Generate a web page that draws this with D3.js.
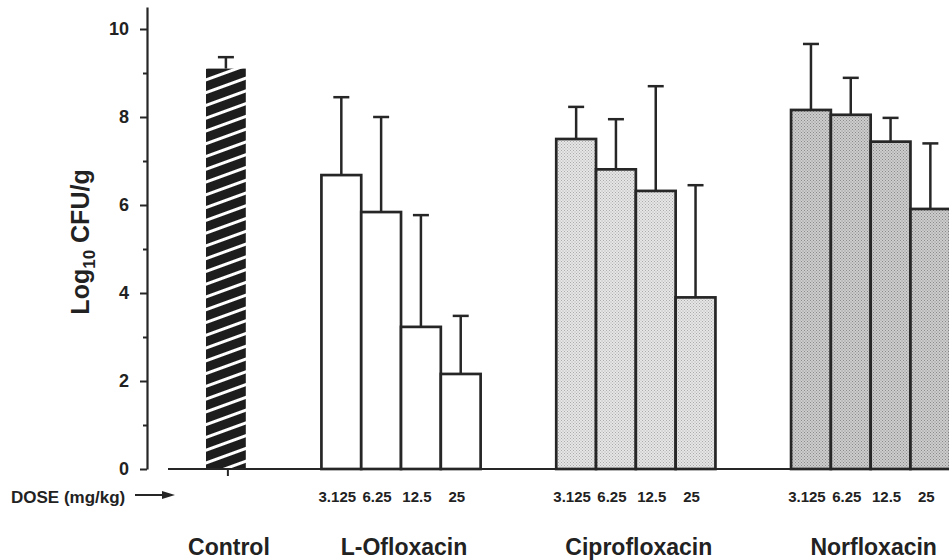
<!DOCTYPE html>
<html>
<head>
<meta charset="utf-8">
<script src="https://cdn.jsdelivr.net/npm/d3@7"></script>
<style>
  body { margin: 0; background: #fff; }
  svg { display: block; font-family: "Liberation Sans", Arial, Helvetica, sans-serif; font-weight: bold; }
</style>
</head>
<body>
<svg id="chart" width="949" height="560"></svg>
<script>
// group names and doses
const groups = ['Control', 'L-Ofloxacin', 'Ciprofloxacin', 'Norfloxacin'];
const doses = ['3.125', '6.25', '12.5', '25'];

// mean log10 CFU/g and upper error (SD)
const controlMean = [9.10];
const controlSd = [0.26];
const lofloxMean = [6.68, 5.84, 3.23, 2.16];
const lofloxSd = [1.77, 2.16, 2.54, 1.32];
const ciproMean = [7.50, 6.81, 6.32, 3.90];
const ciproSd = [0.73, 1.14, 2.38, 2.55];
const norfloxMean = [8.16, 8.05, 7.44, 5.91];
const norfloxSd = [1.50, 0.84, 0.54, 1.49];

const yTicks = [0, 2, 4, 6, 8, 10];

const svg = d3.select('#chart');
const ink = '#262626';

// bar slots: each bar is one unit, groups separated by a gap
const gap = 1.9;
const groupBars = [
  {name: groups[0], mean: controlMean, sd: controlSd, fill: 'url(#hatch)', doses: []},
  {name: groups[1], mean: lofloxMean, sd: lofloxSd, fill: '#fff', doses: doses},
  {name: groups[2], mean: ciproMean, sd: ciproSd, fill: 'url(#dotLight)', doses: doses},
  {name: groups[3], mean: norfloxMean, sd: norfloxSd, fill: 'url(#dotDark)', doses: doses}
];
let pos = 0;
const bars = [];
groupBars.forEach(g => {
  g.start = pos;
  g.mean.forEach((m, i) => {
    bars.push({group: g.name, x0: pos, mean: m, sd: g.sd[i], fill: g.fill, dose: g.doses[i]});
    pos += 1;
  });
  g.end = pos;
  pos += gap;
});

const x = d3.scaleLinear().domain([0, 1]).range([206, 245.8]);
const y = d3.scaleLinear().domain([0, 10.5]).range([469, 7]);

// patterns
const defs = svg.append('defs');
const hatch = defs.append('pattern')
  .attr('id', 'hatch')
  .attr('patternUnits', 'userSpaceOnUse')
  .attr('width', 12).attr('height', 12)
  .attr('patternTransform', 'rotate(-20)');
hatch.append('rect').attr('width', 12).attr('height', 12).attr('fill', '#1d1d1d');
hatch.append('rect').attr('y', 0).attr('width', 12).attr('height', 3).attr('fill', '#fff');

function dots(id, base, dot) {
  const p = defs.append('pattern')
    .attr('id', id)
    .attr('patternUnits', 'userSpaceOnUse')
    .attr('width', 3).attr('height', 3);
  p.append('rect').attr('width', 3).attr('height', 3).attr('fill', base);
  p.append('rect').attr('width', 1).attr('height', 1).attr('fill', dot);
  p.append('rect').attr('x', 1.5).attr('y', 1.5).attr('width', 1).attr('height', 1).attr('fill', dot);
}
dots('dotLight', '#e6e6e6', '#ababab');
dots('dotDark', '#cdcdcd', '#8a8a8a');

// y axis
const yAxis = d3.axisLeft(y)
  .tickValues(d3.range(0, 11))
  .tickSize(6)
  .tickSizeOuter(0)
  .tickPadding(12)
  .tickFormat(d => yTicks.includes(d) ? d : '');
const gy = svg.append('g')
  .attr('transform', 'translate(147,0)')
  .call(yAxis);
gy.select('.domain').attr('stroke', ink).attr('stroke-width', 2.2);
gy.selectAll('.tick line')
  .attr('stroke', ink).attr('stroke-width', 2)
  .attr('x2', d => yTicks.includes(d) ? -7 : -4);
gy.selectAll('.tick text')
  .attr('fill', '#222')
  .style('font-size', '18px')
  .style('font-weight', 'bold');

svg.append('text')
  .attr('transform', 'translate(89,' + 242 + ') rotate(-90)')
  .attr('text-anchor', 'middle')
  .style('font-size', '25px')
  .attr('fill', '#222')
  .call(t => {
    t.append('tspan').text('Log');
    t.append('tspan').attr('dy', 6).style('font-size', '17px').text('10');
    t.append('tspan').attr('dy', -6).text(' CFU/g');
  });

// bars
svg.append('g')
  .selectAll('rect')
  .data(bars)
  .join('rect')
  .attr('x', d => x(d.x0))
  .attr('y', d => y(d.mean))
  .attr('width', d => x(d.x0 + 1) - x(d.x0))
  .attr('height', d => y(0) - y(d.mean))
  .attr('fill', d => d.fill)
  .attr('stroke', d => d.group === 'Control' ? 'none' : ink)
  .attr('stroke-width', 2.7);

// error bars
const err = svg.append('g')
  .attr('stroke', ink)
  .attr('stroke-width', 2.5)
  .selectAll('g')
  .data(bars)
  .join('g');
err.append('line')
  .attr('x1', d => x(d.x0 + 0.5)).attr('x2', d => x(d.x0 + 0.5))
  .attr('y1', d => y(d.mean)).attr('y2', d => y(d.mean + d.sd));
err.append('line')
  .attr('x1', d => x(d.x0 + 0.5) - 8).attr('x2', d => x(d.x0 + 0.5) + 8)
  .attr('y1', d => y(d.mean + d.sd)).attr('y2', d => y(d.mean + d.sd));

// x baseline with a tick under Control
svg.append('line')
  .attr('x1', 168).attr('x2', 949)
  .attr('y1', y(0)).attr('y2', y(0))
  .attr('stroke', ink).attr('stroke-width', 2.2);
svg.append('line')
  .attr('x1', x(0.55)).attr('x2', x(0.55))
  .attr('y1', y(0)).attr('y2', y(0) + 7)
  .attr('stroke', ink).attr('stroke-width', 2);

// dose labels
svg.append('g')
  .selectAll('text')
  .data(bars.filter(d => d.dose))
  .join('text')
  .attr('x', d => x(d.x0 + 0.5) - 4)
  .attr('y', 502)
  .attr('text-anchor', 'middle')
  .style('font-size', '15px')
  .attr('fill', '#222')
  .text(d => d.dose);

svg.append('text')
  .attr('x', 11).attr('y', 503)
  .style('font-size', '17px')
  .attr('fill', '#222')
  .text('DOSE (mg/kg)');
svg.append('line')
  .attr('x1', 135).attr('x2', 164)
  .attr('y1', 495).attr('y2', 495)
  .attr('stroke', ink).attr('stroke-width', 2);
svg.append('path')
  .attr('d', d3.line()([[162, 491], [175, 495], [162, 499]]) + 'Z')
  .attr('fill', ink);

// group labels
svg.append('g')
  .selectAll('text')
  .data(groupBars)
  .join('text')
  .attr('x', d => (x(d.start) + x(d.end)) / 2 + 3)
  .attr('y', 555)
  .attr('text-anchor', 'middle')
  .style('font-size', '23px')
  .attr('fill', '#222')
  .text(d => d.name);
</script>
</body>
</html>
